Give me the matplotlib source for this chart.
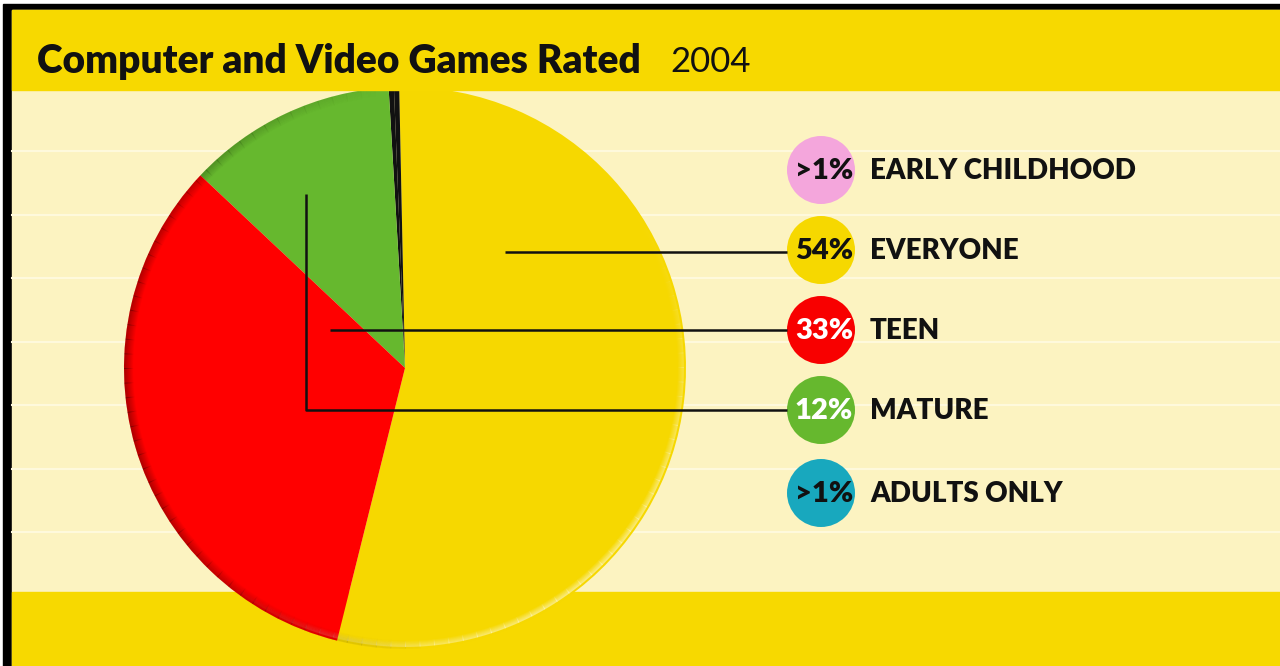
import matplotlib
matplotlib.use("Agg")
import matplotlib.pyplot as plt
from matplotlib.patches import Rectangle, Circle, Wedge
import numpy as np

# data
categories = ['EARLY CHILDHOOD', 'EVERYONE', 'TEEN', 'MATURE', 'ADULTS ONLY']
pct_labels = ['>1%', '54%', '33%', '12%', '>1%']
legend_colors = ['#F4A6DC', '#F6D800', '#F80000', '#66B82E', '#18A8BE']
label_text_colors = ['#111111', '#111111', 'white', 'white', '#111111']

# pie order (counter clockwise from bottom): everyone, early childhood, adults only, mature, teen
pie_shares = [54, 0.3, 0.3, 12, 33]
pie_colors = ['#F6D800', '#111111', '#111111', '#66B82E', '#FF0000']

title = 'Computer and Video Games Rated'
year = '2004'

W, H = 1280, 666
fig = plt.figure(figsize=(12.8, 6.66), dpi=100)
fig.patch.set_facecolor('white')
ax = fig.add_axes([0, 0, 1, 1])

def py(y):
    # picture rows counted from the top
    return H - y

# background
ax.add_patch(Rectangle((0, 0), W, H, color='white', zorder=0))
ax.add_patch(Rectangle((3, 0), W, py(4), color='black', zorder=0.5))
ax.add_patch(Rectangle((12, 0), W, py(10), color='#FCF3C1', zorder=1))
for ys in np.arange(151, 592, 63.5):
    ax.axhline(py(ys), xmin=12 / W, color='#FEF9DC', lw=1.5, zorder=1.2)
ax.add_patch(Rectangle((12, py(90)), W, 80, color='#F7D900', zorder=5))
ax.add_patch(Rectangle((12, 0), W, py(592), color='#F7D900', zorder=1.5))

# pie
cx, cy, r = 405, py(368), 281
wedges, _ = ax.pie(pie_shares, colors=pie_colors, startangle=-104, counterclock=True,
                   center=(cx, cy), radius=r, wedgeprops=dict(linewidth=0))
for w in wedges:
    w.set_zorder(3)

# soft rim shading: dark on the left, light on the lower right
for a0 in range(0, 360, 3):
    mid = np.radians(a0 + 1.5)
    dark = max(0.0, np.cos(mid - np.radians(185))) * 0.28
    light = max(0.0, np.cos(mid - np.radians(310))) ** 2 * 0.45
    for k in range(9):
        if dark > 0.005:
            ax.add_patch(Wedge((cx, cy), r - k, a0, a0 + 3.2, width=1.2, color='black',
                               alpha=dark * (1 - k / 9), lw=0, zorder=3.5))
        if light > 0.005 and k < 6:
            ax.add_patch(Wedge((cx, cy), r - 2 - k, a0, a0 + 3.2, width=1.2, color='white',
                               alpha=light * (1 - k / 6), lw=0, zorder=3.5))

# legend circles and labels
lx, lr = 821, 34
rows = [170, 250, 330, 410, 493]
for yrow, pl, col, tc, cat in zip(rows, pct_labels, legend_colors, label_text_colors, categories):
    ax.add_patch(Circle((lx, py(yrow)), lr, color=col, zorder=4, lw=0))
    ax.text(lx + 3, py(yrow) - 1, pl, ha='center', va='center', fontsize=21,
            fontweight='heavy', family='Lato', color=tc, zorder=6)
    ax.text(870, py(yrow) - 1, cat, ha='left', va='center', fontsize=20,
            fontweight='heavy', family='Lato', color='#111111', zorder=6)

# leader lines
lk = dict(color='#111111', lw=1.8, zorder=4.5, solid_capstyle='butt')
ax.plot([505, lx - lr], [py(252), py(252)], **lk)
ax.plot([330, lx - lr], [py(330), py(330)], **lk)
ax.plot([306, 306, lx - lr], [py(194), py(410), py(410)], **lk)

# title
ax.text(37, py(62), title, ha='left', va='center', fontsize=28, fontweight='heavy',
        family='Lato', color='#111111', zorder=6)
ax.text(670, py(62), year, ha='left', va='center', fontsize=25, family='Lato',
        color='#111111', zorder=6)

ax.set_xlim(0, W)
ax.set_ylim(0, H)
ax.set_aspect('auto')
ax.axis('off')

fig.savefig('out.png', dpi=100)
